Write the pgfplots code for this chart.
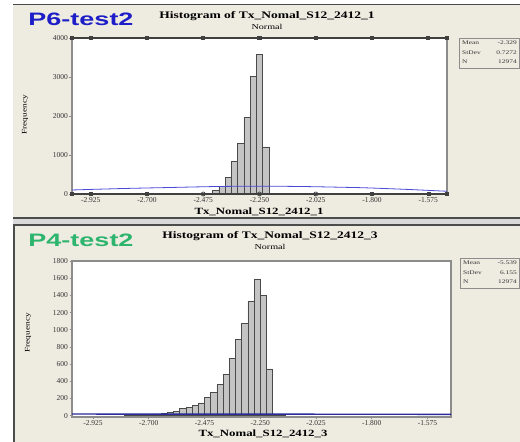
\documentclass[border=0pt]{standalone}
\usepackage{pgfplots}
\pgfplotsset{compat=1.18}
\usepackage{fontspec}
\setmainfont{Liberation Serif}
\newfontfamily\tserif[FakeStretch=1.35]{Liberation Serif}
\newfontfamily\bigsans[FakeStretch=1.5]{Liberation Sans}
\definecolor{panelbg}{HTML}{EEEBE1}
\definecolor{frame}{HTML}{8C8C8C}
\definecolor{barfill}{HTML}{C4C4C4}
\definecolor{baredge}{HTML}{4A4A4A}
\definecolor{ptblue}{HTML}{1E1EC8}
\definecolor{ptgreen}{HTML}{2DB56E}
\definecolor{curveblue}{HTML}{4A4AD8}
\definecolor{navyc}{HTML}{2A2A9A}

\pgfplotstableread{
x y
-2.450 20
-2.425 90
-2.400 200
-2.375 430
-2.350 830
-2.325 1300
-2.300 1970
-2.275 3010
-2.250 3570
-2.225 1210
-2.200 20
}\topbars

\pgfplotstableread{
x y
-2.7875 3
-2.7625 4
-2.7375 6
-2.7125 10
-2.6875 15
-2.6625 22
-2.6375 30
-2.6125 40
-2.5875 50
-2.5625 82
-2.5375 98
-2.5125 118
-2.4875 150
-2.4625 213
-2.4375 275
-2.4125 360
-2.3875 480
-2.3625 670
-2.3375 885
-2.3125 1070
-2.2875 1330
-2.2625 1590
-2.2375 1400
-2.2125 545
-2.1875 8
-2.1625 4
}\botbars

\pgfplotsset{
  histax/.style={
    scale only axis,
    axis background/.style={fill=white},
    axis line style={frame, line width=1.1pt},
    tick align=outside,
    tick pos=left,
    major tick length=2.5pt,
    tick style={frame, line width=0.8pt},
    xtick={-2.925,-2.7,-2.475,-2.25,-2.025,-1.8,-1.575},
    xticklabels={-2.925,-2.700,-2.475,-2.250,-2.025,-1.800,-1.575},
    xticklabel style={font=\fontsize{7.5}{8}\selectfont, text=black!80, inner sep=0.8pt},
    yticklabel style={font=\fontsize{7.5}{8}\selectfont, text=black!80, inner sep=1.5pt},
    clip=false,
  }
}

\begin{document}
\begin{tikzpicture}
\begin{scope}[x=1pt,y=1pt]
\path[use as bounding box] (0,0) rectangle (520,442);
\fill[white] (0,0) rectangle (520,442);
% panels
\fill[panelbg] (13,224) rectangle (520,437);
\draw[gray!60!black, line width=1.5pt] (13,437.5) -- (520,437.5);
\fill[gray!30] (13,217) rectangle (520,224);
\draw[gray!60!black, line width=1.2pt] (13,224) -- (520,224);
\fill[panelbg] (13,0) rectangle (520,217);
\draw[gray!60!black, line width=1.5pt] (14,0) -- (14,217) -- (520,217);
\end{scope}

% ---------- top panel ----------
\begin{axis}[histax, at={(72pt,248pt)}, anchor=south west,
  width=375pt, height=156pt,
  xmin=-3.0, xmax=-1.5, ymin=0, ymax=4000,
  ytick={0,1000,2000,3000,4000},
  yticklabels={0,1000,2000,3000,4000}]
\addplot[ybar, bar width=0.025, fill=barfill, draw=baredge, line width=0.6pt] table[x=x,y=y] {\topbars};
\addplot[curveblue, line width=0.8pt, smooth] coordinates {
(-3.0,103) (-2.8,140) (-2.62,165) (-2.42,192) (-2.25,200) (-2.08,192) (-1.9,170) (-1.81,155) (-1.65,115) (-1.5,70)};
\addplot[black!75, line width=1.2pt, mark=square*, mark size=1.5pt] coordinates {
(-3.0,4000) (-2.925,4000) (-2.7,4000) (-2.475,4000) (-2.25,4000) (-2.025,4000) (-1.8,4000) (-1.575,4000) (-1.5,4000)};
\addplot[black!75, line width=1.2pt] coordinates {(-3.0,0) (-1.5,0)};
\addplot[only marks, black!75, mark=square*, mark size=1.5pt] coordinates {
(-3.0,0) (-2.925,0) (-2.7,0) (-1.8,0) (-1.575,0) (-1.5,0)};
\addplot[only marks, black!75, mark=o, mark size=2pt, mark options={fill=white, line width=0.7pt}] coordinates {
(-2.475,0) (-2.25,0) (-2.025,0)};
\end{axis}

% ---------- bottom panel ----------
\begin{axis}[histax, at={(72pt,25pt)}, anchor=south west,
  width=379pt, height=156pt,
  xmin=-3.01, xmax=-1.48, ymin=-15, ymax=1800,
  ytick={0,200,400,600,800,1000,1200,1400,1600,1800},
  yticklabels={0,200,400,600,800,1000,1200,1400,1600,1800}]
\addplot[ybar, bar width=0.025, fill=barfill, draw=baredge, line width=0.6pt] table[x=x,y=y] {\botbars};
\addplot[navyc, line width=1.4pt] coordinates {
(-3.01,19.5) (-2.5,18.5) (-2.0,17.5) (-1.48,16)};
\end{axis}

\begin{scope}[x=1pt,y=1pt]
% titles and labels (top)
\node[font=\bigsans\bfseries\fontsize{18}{20}\selectfont, text=ptblue] at (81,423) {P6-test2};
\node[font=\tserif\bfseries\fontsize{10}{12}\selectfont] at (267,426) {Histogram of Tx\_Nomal\_S12\_2412\_1};
\node[font=\tserif\fontsize{7.5}{9}\selectfont] at (267,415) {Normal};
\node[font=\tserif\bfseries\fontsize{9.5}{11}\selectfont] at (259,230) {Tx\_Nomal\_S12\_2412\_1};
\node[rotate=90, font=\tserif\fontsize{7}{8}\selectfont] at (25,327) {Frequency};
\draw[frame, line width=0.8pt] (459,374) rectangle (519.5,404);
\begin{scope}[every node/.style={font=\tserif\fontsize{5.5}{6}\selectfont, inner sep=0pt, text=black!80}]
\node[anchor=west] at (462,399) {Mean};
\node[anchor=west] at (462,389) {StDev};
\node[anchor=west] at (462,380) {N};
\node[anchor=east] at (517,399) {-2.329};
\node[anchor=east] at (517,389) {0.7272};
\node[anchor=east] at (517,380) {12974};
\end{scope}

% titles and labels (bottom)
\node[font=\bigsans\bfseries\fontsize{18}{20}\selectfont, text=ptgreen] at (81,202) {P4-test2};
\node[font=\tserif\bfseries\fontsize{10}{12}\selectfont] at (270,206) {Histogram of Tx\_Nomal\_S12\_2412\_3};
\node[font=\tserif\fontsize{7.5}{9}\selectfont] at (270,195) {Normal};
\node[font=\tserif\bfseries\fontsize{9.5}{11}\selectfont] at (263,8.5) {Tx\_Nomal\_S12\_2412\_3};
\node[rotate=90, font=\tserif\fontsize{7}{8}\selectfont] at (28,109) {Frequency};
\draw[frame, line width=0.8pt] (460,154) rectangle (519.5,184);
\begin{scope}[every node/.style={font=\tserif\fontsize{5.5}{6}\selectfont, inner sep=0pt, text=black!80}]
\node[anchor=west] at (463,179) {Mean};
\node[anchor=west] at (463,169) {StDev};
\node[anchor=west] at (463,160) {N};
\node[anchor=east] at (517,179) {-5.539};
\node[anchor=east] at (517,169) {6.155};
\node[anchor=east] at (517,160) {12974};
\end{scope}
\end{scope}
\end{tikzpicture}
\end{document}
